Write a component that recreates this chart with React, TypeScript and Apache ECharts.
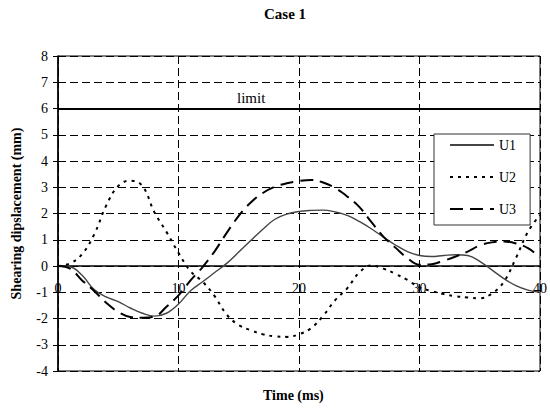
import React, { useEffect, useRef } from "react";
import * as echarts from "echarts";

// Time axis samples (ms)
const time: number[] = [
  0, 1, 2, 3, 4, 5, 6, 7, 8, 9, 10, 11, 12, 13, 14, 15, 16, 17, 18, 19, 20,
  21, 22, 23, 24, 25, 26, 27, 28, 29, 30, 31, 32, 33, 34, 35, 36, 37, 38, 39, 40,
];

// Shearing displacement (mm) for each component
const u1: number[] = [
  0, -0.03, -0.35, -0.9, -1.18, -1.36, -1.6, -1.8, -1.91, -1.8, -1.45,
  -0.94, -0.6, -0.25, 0.1, 0.53, 0.97, 1.4, 1.78, 1.98, 2.08,
  2.12, 2.13, 2.06, 1.93, 1.7, 1.42, 1.1, 0.8, 0.55, 0.4,
  0.36, 0.4, 0.43, 0.4, 0.18, -0.15, -0.48, -0.75, -0.92, -1.0,
];
const u2: number[] = [
  0, 0.1, 0.45, 1.2, 2.3, 3.05, 3.25, 3.05, 2.05, 1.3, 0.5,
  -0.2, -0.6, -1.15, -1.85, -2.25, -2.45, -2.6, -2.68, -2.7, -2.6,
  -2.37, -1.9, -1.3, -0.85, -0.25, 0.02, -0.1, -0.3, -0.53, -0.82,
  -0.95, -1.07, -1.15, -1.2, -1.23, -1.05, -0.6, 0.3, 1.3, 1.95,
];
const u3: number[] = [
  0, -0.1, -0.55, -0.95, -1.4, -1.75, -1.94, -1.97, -1.93, -1.55, -1.12,
  -0.55, -0.04, 0.56, 1.26, 1.91, 2.42, 2.78, 3.02, 3.15, 3.24,
  3.28, 3.18, 2.97, 2.65, 2.25, 1.68, 1.12, 0.7, 0.3, 0.05,
  0.07, 0.2, 0.36, 0.55, 0.78, 0.9, 0.93, 0.86, 0.68, 0.33,
];

const LIMIT = 6;
const FONT = "'Liberation Serif', 'Times New Roman', serif";

const pairs = (vals: number[]) => time.map((t, i) => [t, vals[i]]);

export default function App() {
  const ref = useRef<HTMLDivElement>(null);

  useEffect(() => {
    if (!ref.current) return;
    const chart = echarts.init(ref.current, undefined, { renderer: "svg" });
    chart.setOption({
      animation: false,
      backgroundColor: "#fff",
      textStyle: { fontFamily: FONT, color: "#000" },
      title: [
        {
          text: "Case 1",
          left: 264,
          top: 6,
          padding: 0,
          textStyle: { fontFamily: FONT, fontSize: 15, fontWeight: "bold", color: "#000" },
        },
        {
          text: "Time (ms)",
          left: 263,
          top: 388,
          padding: 0,
          textStyle: { fontFamily: FONT, fontSize: 14, fontWeight: "bold", color: "#000" },
        },
      ],
      grid: {
        left: 58,
        right: 9,
        top: 56,
        bottom: 37,
        show: true,
        borderColor: "#000",
        borderWidth: 1,
        backgroundColor: "transparent",
      },
      legend: {
        orient: "vertical",
        left: 434,
        top: 134,
        width: 95,
        padding: [4, 14, 9, 15],
        itemGap: 18,
        itemWidth: 44,
        itemHeight: 14,
        backgroundColor: "#fff",
        borderColor: "#333",
        borderWidth: 1,
        selectedMode: false,
        itemStyle: { color: "transparent", borderColor: "transparent", borderWidth: 0, opacity: 0 },
        textStyle: { fontFamily: FONT, fontSize: 14, color: "#000" },
        data: ["U1", "U2", "U3"],
      },
      xAxis: {
        type: "value",
        min: 0,
        max: 40,
        interval: 10,
        axisLine: { show: true, onZero: true, lineStyle: { color: "#000", width: 1.6 } },
        axisTick: { show: false },
        // tick labels sit just under the zero line, well above the frame's bottom edge
        axisLabel: { fontFamily: FONT, fontSize: 14, color: "#000", margin: -90 },
        splitLine: { show: true, lineStyle: { color: "#000", type: [8, 4], width: 1 } },
      },
      yAxis: {
        type: "value",
        min: -4,
        max: 8,
        interval: 1,
        name: "Shearing dipslacement (mm)",
        nameLocation: "middle",
        nameRotate: 90,
        nameGap: 35,
        nameTextStyle: { fontFamily: FONT, fontSize: 14, fontWeight: "bold", color: "#000" },
        axisLine: { show: true, onZero: false, lineStyle: { color: "#000", width: 1.6 } },
        axisTick: { show: true, inside: false, length: 5, lineStyle: { color: "#000" } },
        axisLabel: { fontFamily: FONT, fontSize: 14, color: "#000", margin: 10 },
        splitLine: { show: true, lineStyle: { color: "#000", type: [8, 4], width: 1 } },
      },
      series: [
        {
          name: "U1",
          type: "line",
          smooth: 0.4,
          symbol: "none",
          data: pairs(u1),
          lineStyle: { color: "#444", width: 1.4, type: "solid" },
          itemStyle: { color: "#444" },
          z: 3,
          markLine: {
            silent: true,
            symbol: "none",
            lineStyle: { color: "#000", width: 2.2, type: "solid" },
            label: {
              show: true,
              formatter: "limit",
              position: "insideStartTop",
              distance: [179, 3],
              fontFamily: FONT,
              fontSize: 15,
              color: "#000",
            },
            data: [{ yAxis: LIMIT }],
          },
        },
        {
          name: "U2",
          type: "line",
          smooth: 0.4,
          symbol: "none",
          data: pairs(u2),
          lineStyle: { color: "#000", width: 2, type: [3, 5] },
          itemStyle: { color: "#000" },
          z: 3,
        },
        {
          name: "U3",
          type: "line",
          smooth: 0.4,
          symbol: "none",
          data: pairs(u3),
          lineStyle: { color: "#000", width: 2, type: [13, 7] },
          itemStyle: { color: "#000" },
          z: 3,
        },
      ],
    });
    return () => chart.dispose();
  }, []);

  return (
    <div
      ref={ref}
      style={{ position: "fixed", left: 0, top: 0, width: 550, height: 408 }}
    />
  );
}
